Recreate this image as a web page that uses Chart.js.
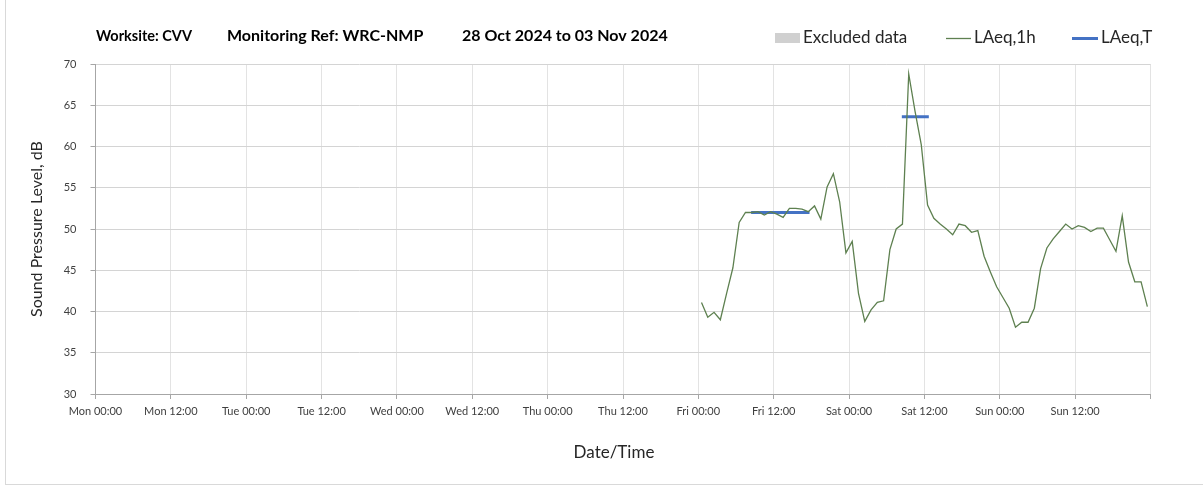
<!DOCTYPE html>
<html>
<head>
<meta charset="utf-8">
<script src="https://cdn.jsdelivr.net/npm/chart.js@4.4.1/dist/chart.umd.min.js"></script>
<style>
  html, body { margin: 0; padding: 0; background: #ffffff; }
  #wrap { position: relative; width: 1203px; height: 488px; }
  #frame { position: absolute; left: 5px; top: -2px; width: 1210px; height: 487px; border: 1px solid #d9d9d9; box-sizing: border-box; pointer-events: none; }
  canvas { position: absolute; left: 0; top: 0; }
</style>
</head>
<body>
<div id="wrap">
  <canvas id="c" width="1203" height="488"></canvas>
  <div id="frame"></div>
</div>
<script>
// ---- data ----
const titleParts = ["Worksite: CVV", "Monitoring Ref: WRC-NMP", "28 Oct 2024 to 03 Nov 2024"];
const tickLabels = ["Mon 00:00", "Mon 12:00", "Tue 00:00", "Tue 12:00", "Wed 00:00", "Wed 12:00",
  "Thu 00:00", "Thu 12:00", "Fri 00:00", "Fri 12:00", "Sat 00:00", "Sat 12:00", "Sun 00:00", "Sun 12:00", ""];
const xTitle = "Date/Time";
const yTitle = "Sound Pressure Level, dB";
// hours since Mon 00:00 of first hourly value (values are hourly)
const firstHour = 96.5;
const laeq1h = [
  41.1, 39.3, 39.9, 39.0, 42.2, 45.3, 50.8, 52.0, 52.0, 52.1, 51.7, 52.1,
  51.8, 51.4, 52.5, 52.5, 52.4, 52.1, 52.8, 51.2, 55.1, 56.7, 53.3, 47.1,
  48.5, 42.2, 38.8, 40.2, 41.1, 41.3, 47.5, 50.0, 50.6, 68.8, 64.3, 60.2,
  52.9, 51.3, 50.6, 50.0, 49.3, 50.6, 50.4, 49.6, 49.8, 46.7, 44.8, 43.0,
  41.7, 40.4, 38.1, 38.7, 38.7, 40.4, 45.2, 47.7, 48.8, 49.7, 50.6, 50.0,
  50.4, 50.2, 49.7, 50.1, 50.1, 48.7, 47.3, 51.6, 46.0, 43.6, 43.6, 40.6
];
const laeqTStart = [104.4, 128.4];
const laeqTEnd = [113.7, 132.7];
const laeqTValue = [52.0, 63.6];
const excludedData = [];

// ---- build datasets ----
const hourlyPoints = laeq1h.map((v, i) => ({ x: firstHour + i, y: v }));
const periodPoints = [];
laeqTValue.forEach((v, i) => {
  periodPoints.push({ x: laeqTStart[i], y: v });
  periodPoints.push({ x: laeqTEnd[i], y: v });
  periodPoints.push({ x: laeqTEnd[i], y: null });
});

const FONT = "Lato, 'Open Sans', sans-serif";

const headerPlugin = {
  id: 'header',
  afterDraw(chart) {
    const ctx = chart.ctx;
    ctx.save();
    ctx.textBaseline = 'middle';
    ctx.fillStyle = '#000000';
    ctx.font = "bold 16px " + FONT;
    const tx = [96, 227, 462];
    const tw = [96, 214, 213];
    titleParts.forEach((t, i) => ctx.fillText(t, tx[i], 36, tw[i]));
    // legend
    ctx.font = "17px " + FONT;
    ctx.fillStyle = '#d0d0d0';
    ctx.fillRect(775, 33, 25, 10);
    ctx.fillStyle = '#262626';
    ctx.fillText("Excluded data", 803, 38, 108);
    ctx.strokeStyle = '#5e8050';
    ctx.lineWidth = 1.3;
    ctx.beginPath(); ctx.moveTo(946, 38.5); ctx.lineTo(971, 38.5); ctx.stroke();
    ctx.fillText("LAeq,1h", 974, 38, 62);
    ctx.strokeStyle = '#4472c4';
    ctx.lineWidth = 3;
    ctx.beginPath(); ctx.moveTo(1072, 38.5); ctx.lineTo(1098, 38.5); ctx.stroke();
    ctx.fillText("LAeq,T", 1101, 38, 56);
    // x axis title
    ctx.font = "17px " + FONT;
    ctx.textAlign = 'center';
    ctx.fillText(xTitle, 614, 453);
    ctx.restore();
  }
};

new Chart(document.getElementById('c'), {
  type: 'line',
  data: {
    datasets: [
      { label: 'Excluded data', data: excludedData, backgroundColor: '#d0d0d0', borderColor: '#d0d0d0' },
      { label: 'LAeq,1h', data: hourlyPoints, borderColor: '#5e8050', borderWidth: 1.3, pointRadius: 0, tension: 0, fill: false },
      { label: 'LAeq,T', data: periodPoints, borderColor: '#4472c4', borderWidth: 3, pointRadius: 0, spanGaps: false, fill: false, borderCapStyle: 'butt' }
    ]
  },
  options: {
    responsive: false,
    animation: false,
    devicePixelRatio: 1,
    layout: { padding: { left: 0, right: 52.5, top: 64, bottom: 0 } },
    plugins: { legend: { display: false }, title: { display: false }, tooltip: { enabled: false } },
    scales: {
      x: {
        type: 'linear', min: 0, max: 168,
        afterFit(s) { s.height = 94; },
        ticks: {
          stepSize: 12, autoSkip: false, maxRotation: 0, padding: 6,
          color: '#404040', font: { family: FONT, size: 11 },
          callback: (v) => tickLabels[Math.round(v / 12)]
        },
        grid: { color: '#e3e3e3', lineWidth: 1, tickLength: 5, tickColor: '#a6a6a6' },
        border: { color: '#a6a6a6', width: 1 },
        title: { display: false }
      },
      y: {
        min: 30, max: 70,
        afterFit(s) { s.width = 95.5; },
        ticks: { stepSize: 5, color: '#404040', font: { family: FONT, size: 11 }, padding: 14 },
        grid: { color: '#d4d4d4', lineWidth: 1, tickLength: 5, tickColor: '#a6a6a6' },
        border: { color: '#a6a6a6', width: 1 },
        title: { display: true, text: yTitle, color: '#262626', font: { family: FONT, size: 16 }, padding: { top: 27, bottom: 0 } }
      }
    }
  },
  plugins: [headerPlugin]
});
</script>
</body>
</html>
